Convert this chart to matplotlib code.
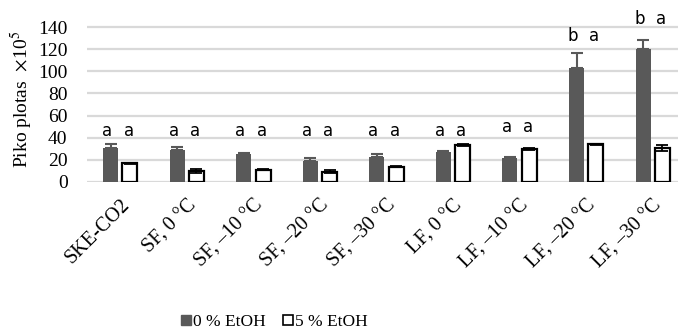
import matplotlib
matplotlib.use("Agg")
import matplotlib.pyplot as plt
from matplotlib.lines import Line2D
import numpy as np

plt.rcParams['font.family'] = ['Liberation Serif', 'DejaVu Serif']
plt.rcParams['mathtext.fontset'] = 'stix'

categories = ["SKE-CO2", "SF, 0 °C", "SF, \u201310 °C", "SF, \u201320 °C", "SF, \u201330 °C",
              "LF, 0 °C", "LF, \u201310 °C", "LF, \u201320 °C", "LF, \u201330 °C"]
etoh0 = [31, 29, 25.3, 19, 23, 27, 21.7, 103, 120]
etoh0_err = [3.5, 2.6, 0.7, 2.7, 2.6, 0.6, 1.2, 13.5, 8]
etoh5 = [17, 10, 11, 9.3, 13.8, 33.7, 30, 34, 30.7]
etoh5_err = [0.5, 1.7, 0.4, 1.5, 0.3, 0.9, 1.0, 0.4, 2.7]
letters0 = ["a", "a", "a", "a", "a", "a", "a", "b", "b"]
letters5 = ["a", "a", "a", "a", "a", "a", "a", "a", "a"]
letter_y = [42, 42, 42, 42, 42, 42, 45, 127, 143]

fig = plt.figure(figsize=(6.78, 3.34), dpi=100)
ax = fig.add_axes([87/678, 1 - 182/334, 599/678, 166/334])

x = np.arange(len(categories))
w = 0.225
off = 0.145
dark = "#595959"

ax.bar(x - off, etoh0, w, color=dark, zorder=3)
ax.errorbar(x - off, etoh0, yerr=[np.zeros(len(x)), etoh0_err], fmt='none',
            ecolor=dark, elinewidth=1.5, capsize=4, capthick=1.5, zorder=4)
ax.bar(x + off, etoh5, w, facecolor="white", edgecolor="black", linewidth=1.6, zorder=3)
ax.errorbar(x + off, etoh5, yerr=etoh5_err, fmt='none',
            ecolor="black", elinewidth=1.3, capsize=4, capthick=1.3, zorder=4)

for i in range(len(x)):
    ax.text(x[i] - off - 0.05, letter_y[i], letters0[i], ha='center', va='baseline',
            family='DejaVu Sans', fontsize=12, clip_on=False)
    ax.text(x[i] + off - 0.02, letter_y[i], letters5[i], ha='center', va='baseline',
            family='DejaVu Sans', fontsize=12, clip_on=False)

ax.set_xlim(-0.5, len(x) - 0.5)
ax.set_ylim(0, 150)
ax.set_yticks(np.arange(0, 141, 20))
ax.yaxis.grid(True, color="#d9d9d9", linewidth=1.6, zorder=0)
ax.set_axisbelow(True)
for s in ax.spines.values():
    s.set_visible(False)
ax.axhline(0, color="#d9d9d9", linewidth=1.8, zorder=1)
ax.tick_params(axis='y', length=0, pad=14, labelsize=14)
ax.tick_params(axis='x', length=0, pad=10, labelsize=14.5)
ax.set_xticks(x)
ax.set_xticklabels(categories, rotation=45, ha='right', rotation_mode='anchor')
ax.set_ylabel("Piko plotas  $\\times$10$^5$", fontsize=14, labelpad=2)

handles = [Line2D([], [], marker='s', linestyle='none', markersize=7,
                  markerfacecolor=dark, markeredgecolor=dark),
           Line2D([], [], marker='s', linestyle='none', markersize=7,
                  markerfacecolor='white', markeredgecolor='black', markeredgewidth=1.2)]
fig.legend(handles, ["0 % EtOH", "5 % EtOH"], loc='center', bbox_to_anchor=(274/678, 1 - 322/334),
           ncol=2, frameon=False, fontsize=12.5, handlelength=0.6, handletextpad=0.1,
           columnspacing=1.0)

fig.savefig("out.png", dpi=100)
